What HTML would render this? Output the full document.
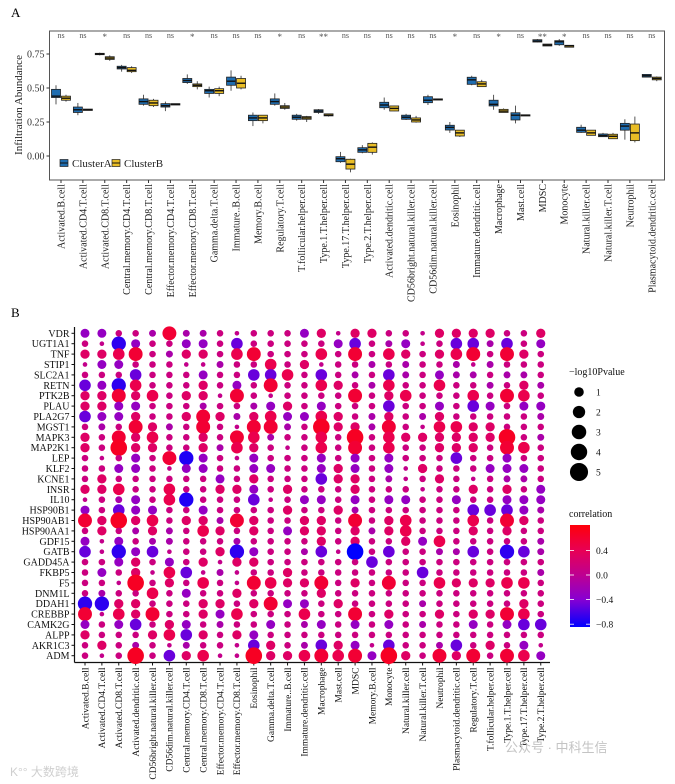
<!DOCTYPE html>
<html><head><meta charset="utf-8">
<style>
html,body{margin:0;padding:0;background:#fff;}
svg{display:block;font-family:"Liberation Serif","Noto Serif CJK SC",serif;}
</style></head>
<body>
<svg id="fig" width="675" height="784" viewBox="0 0 675 784" xmlns="http://www.w3.org/2000/svg">
<text x="11" y="17" font-size="13">A</text>
<text x="11" y="317" font-size="13">B</text>
<g id="panelA"></g>
<g id="panelB"></g>
<text x="505" y="752" font-size="13" fill="#c4c4c4" font-family="'Liberation Sans','Noto Sans CJK SC',sans-serif">公众号 · 中科生信</text>
<text x="10" y="776" font-size="12" fill="#cfcfcf" font-family="'Liberation Sans','Noto Sans CJK SC',sans-serif">K°° 大数跨境</text>
</svg>
<script>
// ---------- Panel A data ----------
const catsA = ["Activated.B.cell","Activated.CD4.T.cell","Activated.CD8.T.cell","Central.memory.CD4.T.cell","Central.memory.CD8.T.cell","Effector.memory.CD4.T.cell","Effector.memory.CD8.T.cell","Gamma.delta.T.cell","Immature..B.cell","Memory.B.cell","Regulatory.T.cell","T.follicular.helper.cell","Type.1.T.helper.cell","Type.17.T.helper.cell","Type.2.T.helper.cell","Activated.dendritic.cell","CD56bright.natural.killer.cell","CD56dim.natural.killer.cell","Eosinophil","Immature.dendritic.cell","Macrophage","Mast.cell","MDSC","Monocyte","Natural.killer.cell","Natural.killer.T.cell","Neutrophil","Plasmacytoid.dendritic.cell"];
const sigLabels = ["ns","ns","*","ns","ns","ns","*","ns","ns","ns","*","ns","**","ns","ns","ns","ns","ns","*","ns","*","ns","**","*","ns","ns","ns","ns"];
const medA = [0.44,0.34,0.75,0.65,0.40,0.37,0.555,0.48,0.55,0.28,0.40,0.285,0.33,-0.02,0.045,0.375,0.285,0.41,0.21,0.56,0.38,0.30,0.845,0.84,0.19,0.15,0.22,0.59];
const q1A  = [0.43,0.32,0.745,0.64,0.38,0.36,0.54,0.46,0.52,0.26,0.38,0.27,0.32,-0.042,0.027,0.355,0.27,0.392,0.191,0.527,0.368,0.265,0.838,0.818,0.174,0.142,0.19,0.58];
const q3A  = [0.49,0.36,0.755,0.66,0.42,0.385,0.57,0.49,0.58,0.30,0.42,0.30,0.34,-0.005,0.061,0.395,0.30,0.436,0.226,0.579,0.41,0.318,0.855,0.848,0.211,0.162,0.24,0.60];
const loA  = [0.38,0.30,0.74,0.62,0.37,0.33,0.53,0.43,0.48,0.22,0.37,0.26,0.31,-0.05,0.02,0.34,0.265,0.375,0.17,0.52,0.34,0.24,0.835,0.81,0.17,0.14,0.12,0.58];
const hiA  = [0.52,0.39,0.76,0.67,0.45,0.40,0.60,0.51,0.63,0.32,0.46,0.31,0.345,0.03,0.08,0.43,0.31,0.45,0.25,0.59,0.45,0.37,0.86,0.86,0.23,0.17,0.27,0.60];
const medB = [0.425,0.34,0.72,0.63,0.39,0.38,0.52,0.48,0.535,0.28,0.36,0.28,0.30,-0.06,0.065,0.35,0.265,0.417,0.17,0.53,0.33,0.30,0.815,0.81,0.17,0.145,0.17,0.57];
const q1B  = [0.41,0.335,0.71,0.62,0.37,0.375,0.51,0.46,0.50,0.26,0.35,0.27,0.295,-0.096,0.027,0.331,0.25,0.414,0.147,0.51,0.32,0.297,0.809,0.80,0.152,0.127,0.113,0.56];
const q3B  = [0.44,0.345,0.73,0.65,0.41,0.385,0.53,0.495,0.57,0.30,0.37,0.29,0.31,-0.024,0.093,0.368,0.28,0.42,0.19,0.546,0.343,0.303,0.823,0.814,0.19,0.16,0.235,0.58];
const loB  = [0.40,0.335,0.70,0.61,0.36,0.375,0.49,0.44,0.49,0.24,0.34,0.25,0.29,-0.12,0.01,0.33,0.245,0.414,0.14,0.51,0.32,0.297,0.809,0.80,0.16,0.13,0.10,0.55];
const hiB  = [0.45,0.345,0.74,0.66,0.42,0.385,0.55,0.51,0.59,0.30,0.39,0.295,0.31,-0.02,0.10,0.37,0.295,0.42,0.19,0.56,0.35,0.303,0.823,0.814,0.19,0.17,0.29,0.585];
const yTicksA = [0.00,0.25,0.50,0.75];
const yTickLabelsA = ["0.00","0.25","0.50","0.75"];

// ---------- Panel B data ----------
const genes = ["VDR","UGT1A1","TNF","STIP1","SLC2A1","RETN","PTK2B","PLAU","PLA2G7","MGST1","MAPK3","MAP2K1","LEP","KLF2","KCNE1","INSR","IL10","HSP90B1","HSP90AB1","HSP90AA1","GDF15","GATB","GADD45A","FKBP5","F5","DNM1L","DDAH1","CREBBP","CAMK2G","ALPP","AKR1C3","ADM"];
const cellsB = ["Activated.B.cell","Activated.CD4.T.cell","Activated.CD8.T.cell","Activated.dendritic.cell","CD56bright.natural.killer.cell","CD56dim.natural.killer.cell","Central.memory.CD4.T.cell","Central.memory.CD8.T.cell","Effector.memory.CD4.T.cell","Effector.memory.CD8.T.cell","Eosinophil","Gamma.delta.T.cell","Immature..B.cell","Immature.dendritic.cell","Macrophage","Mast.cell","MDSC","Memory.B.cell","Monocyte","Natural.killer.cell","Natural.killer.T.cell","Neutrophil","Plasmacytoid.dendritic.cell","Regulatory.T.cell","T.follicular.helper.cell","Type.1.T.helper.cell","Type.17.T.helper.cell","Type.2.T.helper.cell"];
const corr = [
[-.3,-.3,.12,.12,-.15,.6,-.15,-.15,.12,.05,.12,.12,.12,-.3,.3,.05,.3,.3,.12,.12,.05,.3,.3,.3,.3,.12,.12,.3],
[.12,.05,-.7,-.3,.12,.12,-.3,-.3,.12,-.5,.12,.12,.12,.12,.12,-.3,-.5,.12,-.15,-.3,.05,.12,-.5,-.5,-.15,-.5,.12,-.3],
[.3,.3,.45,.6,.12,-.15,.3,.3,.12,.45,.6,.12,.12,.12,.45,.12,.6,.12,.45,.3,.12,.3,.45,.6,.12,.6,.3,.12],
[.05,-.3,-.3,.12,.12,.12,.05,.05,-.15,.12,.12,.45,.12,.3,.05,.12,.12,-.15,.12,-.15,.12,.12,-.15,.05,-.15,.12,.12,.12],
[.12,.12,.12,-.5,.12,.12,.12,-.3,.12,.12,-.5,-.5,.45,.12,-.5,.12,-.15,.12,-.5,-.15,.12,-.3,-.15,-.15,.12,-.15,-.15,.12],
[-.5,-.3,-.7,.45,.12,.12,.12,.3,.12,-.3,.12,.6,.12,.12,.45,.3,.12,-.15,.45,.12,.12,.45,.12,.12,-.15,.12,.3,-.15],
[.3,.3,.6,.3,.45,.12,.3,.3,.05,.6,.12,.05,.12,.12,.12,.12,.6,.12,.3,.45,.12,.12,.12,.45,.12,.6,.45,.12],
[.3,.3,-.3,-.3,.12,.12,.12,-.15,.12,.12,-.15,-.3,.3,.12,-.3,.12,.12,.12,-.5,.12,.12,-.3,.12,-.5,-.3,.12,-.3,-.3],
[-.5,-.3,-.3,.3,.12,.12,.3,.6,.3,-.15,.3,.45,-.3,-.3,.45,.3,.12,-.15,.3,.12,-.15,.3,.12,.12,.12,.12,.12,-.15],
[.12,-.15,.12,.6,.3,-.15,.12,.6,.12,.05,.6,.6,-.15,.12,.7,.3,.3,-.15,.6,.12,.05,.45,.45,.3,.3,.12,.12,.12],
[.3,.12,.6,.3,.45,.12,.12,.3,.12,.6,.45,-.15,.12,.12,.45,.12,.7,.12,.45,.3,.3,.3,.3,.3,.3,.7,.12,-.15],
[.3,.12,.7,.3,.3,.12,.12,.3,-.15,.45,.3,.12,.05,.12,.45,.12,.6,.12,.45,.12,.12,.3,.3,.3,.12,.6,.45,.12],
[.12,.05,.12,-.3,.12,.6,-.75,-.3,.12,.05,-.3,.12,.12,.12,-.3,.12,-.3,.12,-.3,.12,.12,.12,-.5,.12,.12,-.3,.12,.12],
[.12,.12,-.3,-.3,.12,.05,-.3,-.3,.12,.12,-.3,-.3,.12,.12,-.3,.3,-.3,.12,-.3,.05,.3,.12,.12,.12,-.3,-.3,-.3,.12],
[.12,.3,.12,.12,.12,.12,.12,.12,-.3,.12,.3,.12,.12,.12,-.5,.3,.3,.12,-.15,.05,.12,.3,.12,.05,.12,-.15,-.15,.12],
[.3,.3,.45,.12,.12,.45,.12,.12,.3,.3,-.3,.12,.3,.12,.12,.12,.3,.12,.12,.12,.05,.12,.12,.3,.12,.3,.12,-.3],
[.05,.12,-.15,-.3,.12,.45,-.75,.12,.12,.12,-.5,.05,.12,-.3,-.3,.12,-.3,.12,-.3,-.3,.12,.12,-.3,.12,.12,-.3,-.3,-.3],
[-.3,.12,-.5,-.3,-.3,.12,.12,-.3,.12,.12,.12,.12,.3,.12,.12,.3,-.15,.12,.12,.12,.12,.12,.12,-.5,-.5,-.5,-.3,-.15],
[.6,.3,.7,.3,.45,.12,.3,.3,-.15,.6,.3,.12,.12,.3,.3,.12,.6,.12,.3,.45,.12,.12,.12,.45,.12,.6,.3,.12],
[.12,.3,.12,-.15,.3,-.15,.12,.45,.3,.12,.3,.12,-.3,.3,.3,.12,.3,-.15,.3,.45,.12,.12,.12,.3,.12,.3,.12,.12],
[-.3,.05,-.3,.12,-.15,-.15,.12,.12,.12,-.15,.12,.12,.12,.12,.3,.12,.3,.12,.12,.3,-.3,.45,.12,.12,.12,.12,.12,-.15],
[-.5,.05,-.7,-.3,-.5,.05,.12,.12,.3,-.7,-.3,.12,.12,-.15,-.5,.05,-.85,.12,-.5,.12,.12,-.15,-.15,-.5,.12,-.7,-.5,-.15],
[.12,.12,-.3,.3,.12,-.3,.12,.3,.05,.3,.3,.12,.12,.12,.12,.12,.12,-.5,.12,.12,.12,.12,.12,.12,.12,.12,.12,.12],
[.12,-.3,.12,.3,.05,.45,-.5,.05,-.15,.05,.12,.12,.3,.12,.12,.12,.12,.12,.12,.12,-.5,.12,.12,.12,.12,.12,.12,-.15],
[.12,.12,.05,.7,.12,.3,.12,.45,.12,.05,.6,.45,.3,.3,.6,.12,.3,.12,.6,.12,.12,.45,.3,.3,.3,.45,.45,.12],
[.12,-.15,.12,.12,.45,.12,-.3,.12,.12,.3,.12,.12,.12,.12,.3,.12,.12,.12,.12,.12,.12,.12,.12,.12,.12,.12,.12,.12],
[-.7,-.7,.3,.3,.12,.12,.12,.3,.3,.12,.3,.6,-.3,-.3,.12,.3,.12,.12,.12,.12,-.15,.12,.12,.12,.12,.12,.3,.12],
[.6,.05,.45,.3,.6,.12,.12,.3,-.3,.45,.12,.12,.12,.45,.12,.12,.6,.12,.3,.12,.12,.3,.12,.3,.3,.6,.45,.12],
[-.3,.12,-.3,-.5,.12,.3,-.3,.12,-.15,.12,.12,-.3,.12,-.15,-.3,.12,-.3,.12,-.3,.12,-.15,.12,.12,-.3,.12,-.3,-.5,-.5],
[.3,.12,.12,.12,.3,.45,-.5,.3,.12,.3,-.3,.12,.12,.12,.12,.12,.12,.12,.12,.12,.12,.12,.12,.12,.12,.12,.12,.12],
[.12,.3,.12,-.15,.12,.05,-.15,.12,.12,.05,-.5,.3,.12,-.15,-.5,.3,-.3,.05,-.5,.12,.12,-.15,-.5,.12,.3,.12,-.3,.05],
[.12,.05,.12,.7,.12,-.5,.3,.45,.05,.05,.7,.3,.3,.45,.6,.45,.6,-.3,.7,.3,.12,.6,.3,.6,.12,.6,.45,-.3]
];
const logP = [
[1.2,1.2,.5,.5,.6,3.3,.6,.6,.5,.1,.5,.5,.5,1.2,1.3,.1,1.3,1.3,.5,.5,.1,1.3,1.3,1.3,1.3,.5,.5,1.3],
[.5,.1,3.5,1.2,.5,.5,1.2,1.2,.5,2.2,.5,.5,.5,.5,.5,1.2,2.2,.5,.6,1.2,.1,.5,2.2,2.2,.6,2.2,.5,1.2],
[1.3,1.3,2.2,3.3,.5,.6,1.3,1.3,.5,2.2,3.3,.5,.5,.5,2.2,.5,3.3,.5,2.2,1.3,.5,1.3,2.2,3.3,.5,3.3,1.3,.5],
[.1,1.2,1.2,.5,.5,.5,.1,.1,.6,.5,.5,2.2,.5,1.3,.1,.5,.5,.6,.5,.6,.5,.5,.6,.1,.6,.5,.5,.5],
[.5,.5,.5,2.2,.5,.5,.5,1.2,.5,.5,2.2,2.2,2.2,.5,2.2,.5,.6,.5,2.2,.6,.5,1.2,.6,.6,.5,.6,.6,.5],
[2.2,1.2,3.5,2.2,.5,.5,.5,1.3,.5,1.2,.5,3.3,.5,.5,2.2,1.3,.5,.6,2.2,.5,.5,2.2,.5,.5,.6,.5,1.3,.6],
[1.3,1.3,3.3,1.3,2.2,.5,1.3,1.3,.1,3.3,.5,.1,.5,.5,.5,.5,3.3,.5,1.3,2.2,.5,.5,.5,2.2,.5,3.3,2.2,.5],
[1.3,1.3,1.2,1.2,.5,.5,.5,.6,.5,.5,.6,1.2,1.3,.5,1.2,.5,.5,.5,2.2,.5,.5,1.2,.5,2.2,1.2,.5,1.2,1.2],
[2.2,1.2,1.2,1.3,.5,.5,1.3,3.3,1.3,.6,1.3,2.2,1.2,1.2,2.2,1.3,.5,.6,1.3,.5,.6,1.3,.5,.5,.5,.5,.5,.6],
[.5,.6,.5,3.3,1.3,.6,.5,3.3,.5,.1,3.3,3.3,.6,.5,4.8,1.3,1.3,.6,3.3,.5,.1,2.2,2.2,1.3,1.3,.5,.5,.5],
[1.3,.5,3.3,1.3,2.2,.5,.5,1.3,.5,3.3,2.2,.6,.5,.5,2.2,.5,4.8,.5,2.2,1.3,1.3,1.3,1.3,1.3,1.3,4.8,.5,.6],
[1.3,.5,4.8,1.3,1.3,.5,.5,1.3,.6,2.2,1.3,.5,.1,.5,2.2,.5,3.3,.5,2.2,.5,.5,1.3,1.3,1.3,.5,3.3,2.2,.5],
[.5,.1,.5,1.2,.5,3.3,3.5,1.2,.5,.1,1.2,.5,.5,.5,1.2,.5,1.2,.5,1.2,.5,.5,.5,2.2,.5,.5,1.2,.5,.5],
[.5,.5,1.2,1.2,.5,.1,1.2,1.2,.5,.5,1.2,1.2,.5,.5,1.2,1.3,1.2,.5,1.2,.1,1.3,.5,.5,.5,1.2,1.2,1.2,.5],
[.5,1.3,.5,.5,.5,.5,.5,.5,1.2,.5,1.3,.5,.5,.5,2.2,1.3,1.3,.5,.6,.1,.5,1.3,.5,.1,.5,.6,.6,.5],
[1.3,1.3,2.2,.5,.5,2.2,.5,.5,1.3,1.3,1.2,.5,1.3,.5,.5,.5,1.3,.5,.5,.5,.1,.5,.5,1.3,.5,1.3,.5,1.2],
[.1,.5,.6,1.2,.5,2.2,3.5,.5,.5,.5,2.2,.1,.5,1.2,1.2,.5,1.2,.5,1.2,1.2,.5,.5,1.2,.5,.5,1.2,1.2,1.2],
[1.2,.5,2.2,1.2,1.2,.5,.5,1.2,.5,.5,.5,.5,1.3,.5,.5,1.3,.6,.5,.5,.5,.5,.5,.5,2.2,2.2,2.2,1.2,.6],
[3.3,1.3,4.8,1.3,2.2,.5,1.3,1.3,.6,3.3,1.3,.5,.5,1.3,1.3,.5,3.3,.5,1.3,2.2,.5,.5,.5,2.2,.5,3.3,1.3,.5],
[.5,1.3,.5,.6,1.3,.6,.5,2.2,1.3,.5,1.3,.5,1.2,1.3,1.3,.5,1.3,.6,1.3,2.2,.5,.5,.5,1.3,.5,1.3,.5,.5],
[1.2,.1,1.2,.5,.6,.6,.5,.5,.5,.6,.5,.5,.5,.5,1.3,.5,1.3,.5,.5,1.3,1.2,2.2,.5,.5,.5,.5,.5,.6],
[2.2,.1,3.5,1.2,2.2,.1,.5,.5,1.3,3.5,1.2,.5,.5,.6,2.2,.1,4.8,.5,2.2,.5,.5,.6,.6,2.2,.5,3.5,2.2,.6],
[.5,.5,1.2,1.3,.5,1.2,.5,1.3,.1,1.3,1.3,.5,.5,.5,.5,.5,.5,2.2,.5,.5,.5,.5,.5,.5,.5,.5,.5,.5],
[.5,1.2,.5,1.3,.1,2.2,2.2,.1,.6,.1,.5,.5,1.3,.5,.5,.5,.5,.5,.5,.5,2.2,.5,.5,.5,.5,.5,.5,.6],
[.5,.5,.1,4.8,.5,1.3,.5,2.2,.5,.1,3.3,2.2,1.3,1.3,3.3,.5,1.3,.5,3.3,.5,.5,2.2,1.3,1.3,1.3,2.2,2.2,.5],
[.5,.6,.5,.5,2.2,.5,1.2,.5,.5,1.3,.5,.5,.5,.5,1.3,.5,.5,.5,.5,.5,.5,.5,.5,.5,.5,.5,.5,.5],
[3.5,3.5,1.3,1.3,.5,.5,.5,1.3,1.3,.5,1.3,3.3,1.2,1.2,.5,1.3,.5,.5,.5,.5,.6,.5,.5,.5,.5,.5,1.3,.5],
[3.3,.1,2.2,1.3,3.3,.5,.5,1.3,1.2,2.2,.5,.5,.5,2.2,.5,.5,3.3,.5,1.3,.5,.5,1.3,.5,1.3,1.3,3.3,2.2,.5],
[1.2,.5,1.2,2.2,.5,1.3,1.2,.5,.6,.5,.5,1.2,.5,.6,1.2,.5,1.2,.5,1.2,.5,.6,.5,.5,1.2,.5,1.2,2.2,2.2],
[1.3,.5,.5,.5,1.3,2.2,2.2,1.3,.5,1.3,1.2,.5,.5,.5,.5,.5,.5,.5,.5,.5,.5,.5,.5,.5,.5,.5,.5,.5],
[.5,1.3,.5,.6,.5,.1,.6,.5,.5,.1,2.2,1.3,.5,.6,2.2,1.3,1.2,.1,2.2,.5,.5,.6,2.2,.5,1.3,.5,1.2,.1],
[.5,.1,.5,4.8,.5,2.2,1.3,2.2,.1,.1,4.8,1.3,1.3,2.2,3.3,2.2,3.3,1.2,4.8,1.3,.5,3.3,1.3,3.3,.5,3.3,2.2,1.2]
];
const sizeLegendValues = [1,2,3,4,5];
const colorTickValues = [0.4,0.0,-0.4,-0.8];
const colorTickLabels = ["0.4","0.0","\u22120.4","\u22120.8"];

const NS = "http://www.w3.org/2000/svg";
function mk(tag, attrs, parent, text){
  const e = document.createElementNS(NS, tag);
  for (const k in attrs) e.setAttribute(k, attrs[k]);
  if (text !== undefined) e.textContent = text;
  parent.appendChild(e);
  return e;
}

// ---------- Panel A ----------
const gA = document.getElementById("panelA");
const A_L = 49.5, A_R = 664.5, A_T = 31, A_B = 180;
function yA(v){ return 156 - v*136; }
function xA(i){ return 61 + i*21.88; }
let fr = mk("rect",{x:A_L,y:A_T,width:A_R-A_L,height:A_B-A_T,fill:"none",stroke:"#555","stroke-width":1},gA);


yTicksA.forEach((v,i)=>{
  mk("line",{x1:A_L-3,x2:A_L,y1:yA(v),y2:yA(v),stroke:"#333"},gA);
  let t = mk("text",{x:A_L-5,y:yA(v)+3.5,"font-size":10,"text-anchor":"end",fill:"#333"},gA,yTickLabelsA[i]);
  
  
});
let yt = mk("text",{x:0,y:0,"font-size":11,"text-anchor":"middle",transform:"translate(22,105) rotate(-90)",fill:"#222"},gA,"Infiltration Abundance");


function drawBox(cx, q1, q3, med, lo, hi, fill, name){
  const g = mk("g",{},gA);
  
  
  mk("line",{x1:cx,x2:cx,y1:yA(hi),y2:yA(lo),stroke:"#444","stroke-width":0.9},g);
  const top = yA(q3), bot = yA(q1);
  mk("rect",{x:cx-4.5,y:top,width:9,height:Math.max(bot-top,1.2),fill:fill,stroke:"#222","stroke-width":0.8},g);
  mk("line",{x1:cx-4.5,x2:cx+4.5,y1:yA(med),y2:yA(med),stroke:"#111","stroke-width":1.4},g);
}
catsA.forEach((c,i)=>{
  const cx = xA(i);
  drawBox(cx-5, q1A[i], q3A[i], medA[i], loA[i], hiA[i], "#1F6DB0", "box-clustera");
  drawBox(cx+5, q1B[i], q3B[i], medB[i], loB[i], hiB[i], "#E9BD26", "box-clusterb");
  let s = mk("text",{x:cx,y:sigLabels[i]==="ns"?38:40,"font-size":sigLabels[i]==="ns"?8:9,"text-anchor":"middle",fill:"#555"},gA,sigLabels[i]);
  
  
  mk("line",{x1:cx,x2:cx,y1:A_B,y2:A_B+3,stroke:"#333"},gA);
  let t = mk("text",{x:0,y:0,"font-size":10,"text-anchor":"end",fill:"#222",transform:`translate(${cx+3.5},${A_B+4}) rotate(-90)`},gA,c);
  
  
});
// legend A
const lgA = mk("g",{},gA);


[["ClusterA","#1F6DB0",60],["ClusterB","#E9BD26",112]].forEach(d=>{
  const e = mk("g",{},lgA);
  
  
  mk("rect",{x:d[2],y:159.5,width:8,height:7,fill:d[1],stroke:"#222","stroke-width":0.7},e);
  mk("line",{x1:d[2],x2:d[2]+8,y1:163,y2:163,stroke:"#111","stroke-width":1},e);
  mk("text",{x:d[2]+12,y:167,"font-size":11,fill:"#222"},e,d[0]);
});

// ---------- Panel B ----------
const gB = document.getElementById("panelB");
const B_L = 74.5, B_B = 662.5;
function yB(i){ return 333.3 + i*10.4; }
function xB(j){ return 85 + j*16.88; }
function rad(p){ return Math.sqrt(4 + 13.5*p); }
const cStops = [[-0.85,[0,0,255]],[-0.4,[135,0,210]],[0,[190,0,145]],[0.4,[232,0,85]],[0.85,[255,0,10]]];
function colr(v){
  if (v <= cStops[0][0]) return `rgb(${cStops[0][1].join(",")})`;
  for (let k=1;k<cStops.length;k++){
    if (v <= cStops[k][0]){
      const a=cStops[k-1], b=cStops[k], t=(v-a[0])/(b[0]-a[0]);
      const c=a[1].map((x,ii)=>Math.round(x+(b[1][ii]-x)*t));
      return `rgb(${c.join(",")})`;
    }
  }
  return `rgb(${cStops[cStops.length-1][1].join(",")})`;
}
let ax1 = mk("line",{x1:B_L,x2:B_L,y1:327,y2:B_B,stroke:"#111","stroke-width":1.2},gB);


let ax2 = mk("line",{x1:B_L,x2:550,y1:B_B,y2:B_B,stroke:"#111","stroke-width":1.2},gB);


genes.forEach((gn,i)=>{
  mk("line",{x1:B_L-3,x2:B_L,y1:yB(i),y2:yB(i),stroke:"#111"},gB);
  let t = mk("text",{x:B_L-5,y:yB(i)+3.5,"font-size":10,"text-anchor":"end",fill:"#111"},gB,gn);
  
  
});
cellsB.forEach((c,j)=>{
  mk("line",{x1:xB(j),x2:xB(j),y1:B_B,y2:B_B+3,stroke:"#111"},gB);
  let t = mk("text",{x:0,y:0,"font-size":9.5,"text-anchor":"end",fill:"#111",transform:`translate(${xB(j)+3.3},${B_B+5}) rotate(-90)`},gB,c);
  
  
});
genes.forEach((gn,i)=>{
  cellsB.forEach((c,j)=>{
    const d = mk("circle",{cx:xB(j),cy:yB(i),r:rad(logP[i][j]),fill:colr(corr[i][j])},gB);
    
    
  });
});
// size legend
const lgS = mk("g",{},gB);


mk("text",{x:569,y:375,"font-size":10,fill:"#111"},lgS,"\u2212log10Pvalue");
sizeLegendValues.forEach((v,k)=>{
  const e = mk("g",{},lgS);
  
  
  const cy = 392 + k*20;
  mk("circle",{cx:579,cy:cy,r:rad(v)+0.6,fill:"#000"},e);
  mk("text",{x:596,y:cy+3.5,"font-size":9.5,fill:"#111"},e,String(v));
});
// color legend
const lgC = mk("g",{},gB);


mk("text",{x:569,y:517,"font-size":10,fill:"#111"},lgC,"correlation");
const defs = mk("defs",{},lgC);
const lg = mk("linearGradient",{id:"cg",x1:0,y1:0,x2:0,y2:1},defs);
const cbTop = 525, cbBot = 627;
function yC(v){ return 575 - v*61.5; }
[0.85,0.4,0,-0.4,-0.85].forEach(v=>{
  mk("stop",{offset:((yC(v)-cbTop)/(cbBot-cbTop)).toFixed(3),"stop-color":colr(v)},lg);
});
let cb = mk("rect",{x:570,y:cbTop,width:20,height:cbBot-cbTop,fill:"url(#cg)"},lgC);


colorTickValues.forEach((v,k)=>{
  const y = yC(v);
  mk("line",{x1:570,x2:574,y1:y,y2:y,stroke:"#fff","stroke-width":0.8},lgC);
  mk("line",{x1:586,x2:590,y1:y,y2:y,stroke:"#fff","stroke-width":0.8},lgC);
  mk("text",{x:596,y:y+3.5,"font-size":9.5,fill:"#111"},lgC,colorTickLabels[k]);
});
</script>
</body></html>
